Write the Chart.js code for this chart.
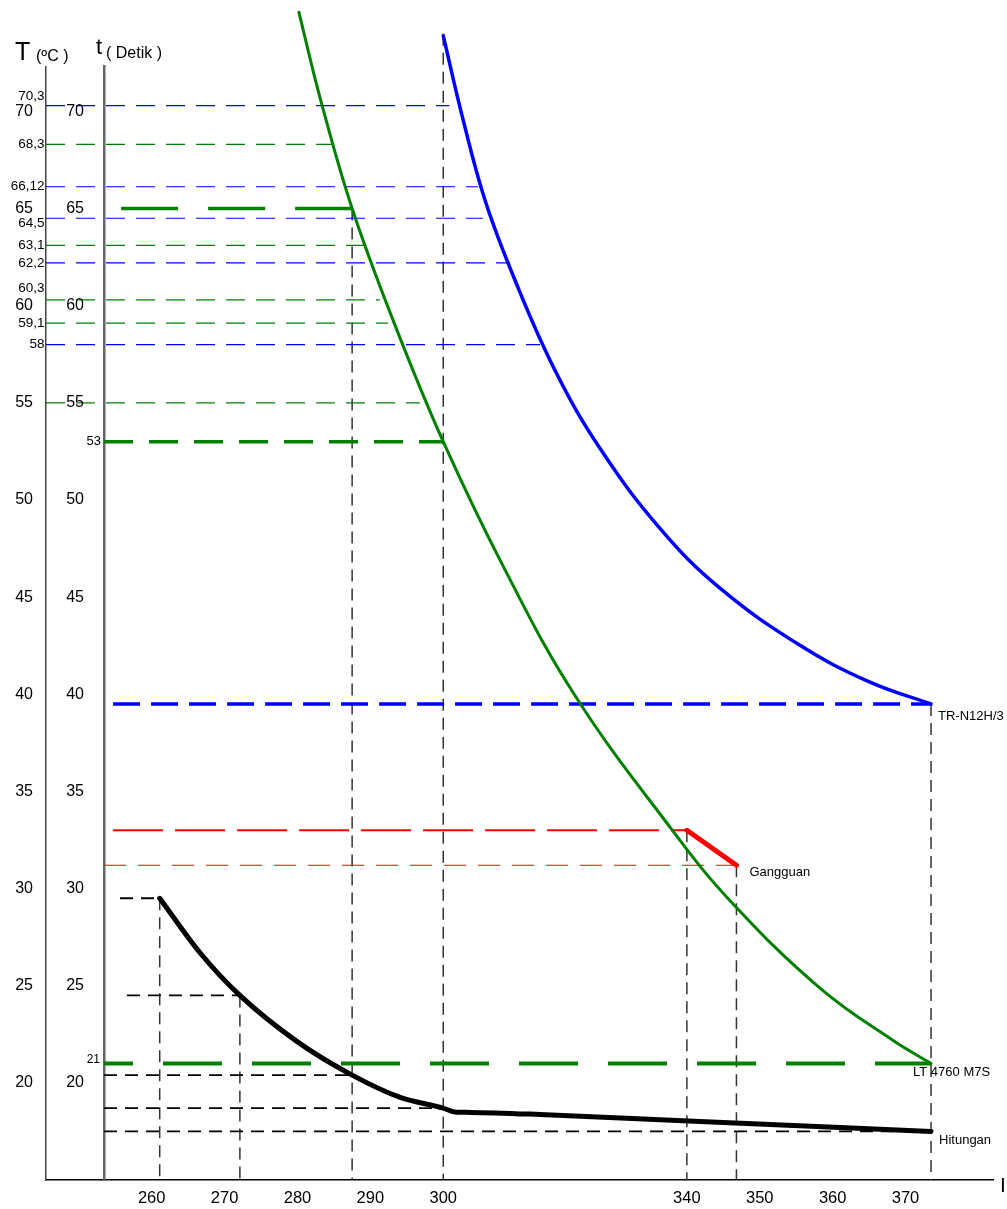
<!DOCTYPE html>
<html>
<head>
<meta charset="utf-8">
<script src="https://cdn.jsdelivr.net/npm/chart.js@4/dist/chart.umd.min.js"></script>
<style>
  html, body { margin: 0; padding: 0; background: #fff; }
  #wrap { width: 1007px; height: 1209px; }
</style>
</head>
<body>
<div id="wrap"><canvas id="c" width="1007" height="1209"></canvas></div>
<script>
// ---------- axis ticks ----------
const currentTicks = [260, 270, 280, 290, 300, 340, 350, 360, 370];
const levelTicks = [20, 25, 30, 35, 40, 45, 50, 55, 60, 65, 70];

// ---------- characteristic curves (I, T) ----------
// TR-N12H/3
const trI = [300, 303.07, 306.85, 311.77, 318.34, 325.73, 335.58, 344.54, 355.52, 365.12, 373.5];
const trT = [73.9, 69.81, 65.44, 61.32, 56.68, 52.66, 48.54, 45.46, 42.52, 40.62, 39.5];
// LT 4760 M7S
const ltI = [280.2, 283.1, 287.5, 293.38, 300, 310.0, 321.6, 337.5, 345.9, 358.3, 368.3, 373.5];
const ltT = [75.1, 70.7, 65, 59.0, 53, 46.49, 39.95, 33.05, 29.39, 24.86, 22.18, 21];
// Hitungan
const calcI = [261.1, 266.6, 272.1, 280.3, 287.5, 294.1, 300, 301.9, 304.4, 315.9, 341.8, 373.5];
const calcT = [29.5, 26.71, 24.5, 22.03, 20.4, 19.25, 18.7, 18.5, 18.48, 18.37, 18.01, 17.5];
// Gangguan
const faultI = [340, 346.8];
const faultT = [33, 31.2];

// ---------- guide levels read on the T axis ----------
const trLevels = [70.3, 66.12, 64.5, 62.2, 58];
const trLevelEnds = [301, 305.7, 306.5, 311.0, 315.9];
const ltLevels = [68.3, 63.1, 60.3, 59.1, 55];
const ltLevelEnds = [284.9, 289.3, 291.3, 292.4, 296.8];
const markedLevels = [70.3, 68.3, 66.12, 64.5, 63.1, 62.2, 60.3, 59.1, 58];
const markedTexts = ['70,3', '68,3', '66,12', '64,5', '63,1', '62,2', '60,3', '59,1', '58'];

// ---------- operating points ----------
const ltMarkT = [65, 53, 21];
const ltMarkI = [287.5, 300, 373.5];
const trMarkT = 39.5;
const trMarkI = 373.5;
const calcMarkT = [29.5, 24.5, 20.4, 18.7, 17.5];
const calcMarkI = [261.1, 272.1, 287.5, 300, 373.5];
const calcMarkFrom = [255.65, 256.6, 253.46, 253.46, 253.46];
const dropI = [261.1, 272.1, 287.5, 300, 340, 346.8, 373.5];
const dropT = [29.5, 24.5, 65, 74, 33, 31.2, 39.5];

// ---------- scale layout ----------
const I_MIN = 245.5, I_MAX = 382;
const T_MIN = 15, T_MAX = 72.3;
const tAxisAt = 253.46;        // I value where the t axis stands
const dashStart = 254.7;       // left end of the long operating dashes

const FONT = '"Liberation Sans", Arial, Helvetica, sans-serif';
const GREEN = '#008000', BLUE = '#0000ff', RED = '#ff0000', BLACK = '#000000';

// Linear current axis with the 300..340 span drawn compressed
const BREAK_FROM = 300, BREAK_TO = 340, BREAK_FACTOR = 0.8356;
function squeeze(v) {
  if (v <= BREAK_FROM) return v;
  if (v <= BREAK_TO) return BREAK_FROM + (v - BREAK_FROM) * BREAK_FACTOR;
  return BREAK_FROM + (BREAK_TO - BREAK_FROM) * BREAK_FACTOR + (v - BREAK_TO);
}
function unsqueeze(u) {
  const b = BREAK_FROM + (BREAK_TO - BREAK_FROM) * BREAK_FACTOR;
  if (u <= BREAK_FROM) return u;
  if (u <= b) return BREAK_FROM + (u - BREAK_FROM) / BREAK_FACTOR;
  return BREAK_TO + (u - b);
}
class BrokenLinearScale extends Chart.LinearScale {
  getPixelForValue(value) {
    if (value === null || value === undefined || isNaN(value)) return NaN;
    const a = squeeze(this.min), b = squeeze(this.max);
    return this.getPixelForDecimal((squeeze(value) - a) / (b - a));
  }
  getValueForPixel(pixel) {
    const a = squeeze(this.min), b = squeeze(this.max);
    return unsqueeze(a + this.getDecimalForPixel(pixel) * (b - a));
  }
}
BrokenLinearScale.id = 'brokenLinear';
BrokenLinearScale.defaults = {};
Chart.register(BrokenLinearScale);

function pts(xs, ys) { return xs.map((x, i) => ({ x, y: ys[i] })); }
function seg(xs, ys, color, width, dash, extra) {
  return Object.assign({
    data: pts(xs, ys),
    borderColor: color,
    borderWidth: width,
    borderDash: dash || [],
    borderCapStyle: 'butt',
    pointRadius: 0,
    fill: false,
    tension: 0,
    clip: false
  }, extra || {});
}
const bezier = { tension: 0.4, capBezierPoints: false, borderCapStyle: 'round', borderJoinStyle: 'round' };
const monotone = { cubicInterpolationMode: 'monotone', capBezierPoints: false, borderCapStyle: 'round', borderJoinStyle: 'round' };

const datasets = [];
// curves on top
datasets.push(seg(faultI, faultT, RED, 5, [], { borderCapStyle: 'round' }));
datasets.push(seg(calcI, calcT, BLACK, 5, [], monotone));
datasets.push(seg(ltI, ltT, GREEN, 3, [], bezier));
datasets.push(seg(trI, trT, BLUE, 3.5, [], bezier));
// operating dashes
datasets.push(seg([ltMarkI[0], tAxisAt], [ltMarkT[0], ltMarkT[0]], GREEN, 3.5, [57, 30]));
datasets.push(seg([tAxisAt, ltMarkI[1]], [ltMarkT[1], ltMarkT[1]], GREEN, 3.5, [29, 16]));
datasets.push(seg([tAxisAt, ltMarkI[2]], [ltMarkT[2], ltMarkT[2]], GREEN, 4, [59, 30], { borderDashOffset: 30 }));
datasets.push(seg([dashStart, trMarkI], [trMarkT, trMarkT], BLUE, 3.5, [27, 11]));
datasets.push(seg([dashStart, faultI[0]], [faultT[0], faultT[0]], RED, 2, [50, 12]));
datasets.push(seg([tAxisAt, faultI[1]], [faultT[1], faultT[1]], RED, 1.2, [22, 12]));
// guide levels from the T axis
trLevels.forEach((v, i) => datasets.push(seg([I_MIN, trLevelEnds[i]], [v, v], BLUE, 1.2, [19, 11])));
ltLevels.forEach((v, i) => datasets.push(seg([I_MIN, ltLevelEnds[i]], [v, v], GREEN, 1.2, [19, 11])));
// calculated points
calcMarkT.forEach((v, i) => datasets.push(seg([calcMarkFrom[i], calcMarkI[i]], [v, v], BLACK, 1.8, [13, 8])));
// drops to the current axis
dropI.forEach((v, i) => datasets.push(seg([v, v], [dropT[i], T_MIN], '#333', 1.5, [12, 7])));

const annotate = {
  id: 'annotate',
  afterDraw(chart) {
    const { ctx, chartArea: area, scales } = chart;
    const x = scales.x, y = scales.y;
    const tx = x.getPixelForValue(tAxisAt);
    ctx.save();
    ctx.fillStyle = '#000';
    ctx.textAlign = 'left';
    ctx.textBaseline = 'alphabetic';
    // axis titles
    ctx.font = '25px ' + FONT; ctx.fillText('T', area.left - 31, area.top - 7);
    ctx.font = '16px ' + FONT; ctx.fillText('(\u00baC )', area.left - 10, area.top - 6);
    ctx.font = '22px ' + FONT; ctx.fillText('t', tx - 8, area.top - 13);
    ctx.font = '16px ' + FONT; ctx.fillText('( Detik )', tx + 2, area.top - 9);
    ctx.font = '21px ' + FONT; ctx.fillText('I', area.right + 7, area.bottom + 12);

    ctx.textBaseline = 'middle';
    ctx.textAlign = 'right';
    // labels of the t axis
    ctx.font = '16px ' + FONT;
    levelTicks.forEach(v => ctx.fillText(String(v), tx - 20, y.getPixelForValue(v)));
    // marked levels beside the T axis
    const shifts = [-9, 0, 0, 5, 0, 0, -12, 0, 0];
    ctx.font = '13.5px ' + FONT;
    markedLevels.forEach((v, i) => ctx.fillText(markedTexts[i], area.left - 1.5, y.getPixelForValue(v) + shifts[i]));
    ctx.font = '13px ' + FONT;
    ctx.fillText(String(ltMarkT[1]), tx - 3, y.getPixelForValue(ltMarkT[1]));
    ctx.font = '12px ' + FONT;
    ctx.fillText(String(ltMarkT[2]), tx - 4, y.getPixelForValue(ltMarkT[2]) - 4);

    // curve names
    ctx.textAlign = 'left';
    ctx.font = '13px ' + FONT;
    ctx.fillText('TR-N12H/3', x.getPixelForValue(trMarkI) + 7, y.getPixelForValue(trMarkT) + 12);
    ctx.fillText('Gangguan', x.getPixelForValue(faultI[1]) + 13, y.getPixelForValue(faultT[1]) + 7);
    ctx.fillText('LT 4760 M7S', x.getPixelForValue(ltMarkI[2]) - 18, y.getPixelForValue(ltMarkT[2]) + 9);
    ctx.fillText('Hitungan', x.getPixelForValue(calcMarkI[4]) + 8, y.getPixelForValue(calcMarkT[4]) + 9);
    ctx.restore();
  }
};

const levelAxis = (showLabels, borderColor, borderWidth) => ({
  type: 'linear',
  min: T_MIN,
  max: T_MAX,
  bounds: 'data',
  afterBuildTicks: s => { s.ticks = levelTicks.map(v => ({ value: v })); },
  grid: { display: false, drawTicks: false },
  border: { display: true, color: borderColor, width: borderWidth },
  ticks: { display: showLabels, padding: 13, autoSkip: false, color: '#000', font: { family: FONT, size: 16 } }
});

new Chart(document.getElementById('c'), {
  type: 'line',
  data: { datasets },
  options: {
    responsive: false,
    animation: false,
    events: [],
    layout: { padding: { top: 66.7, right: 14, bottom: 0, left: 0 } },
    plugins: { legend: { display: false }, tooltip: { enabled: false } },
    scales: {
      x: {
        type: 'brokenLinear',
        min: I_MIN,
        max: I_MAX,
        bounds: 'data',
        afterBuildTicks: s => { s.ticks = currentTicks.map(v => ({ value: v })); },
        afterFit: s => { s.height = 29; },
        grid: { display: false, drawTicks: false },
        border: { display: true, color: '#000', width: 1.5 },
        ticks: { padding: 9, autoSkip: false, maxRotation: 0, color: '#000', font: { family: FONT, size: 16.5 } }
      },
      y: Object.assign(levelAxis(true, '#444', 1.5), {
        position: 'left',
        afterFit: s => { s.width = 46; }
      }),
      t: Object.assign(levelAxis(false, '#666', 2.5), {
        axis: 'y',
        position: { x: tAxisAt }
      })
    }
  },
  plugins: [annotate]
});
</script>
</body>
</html>
